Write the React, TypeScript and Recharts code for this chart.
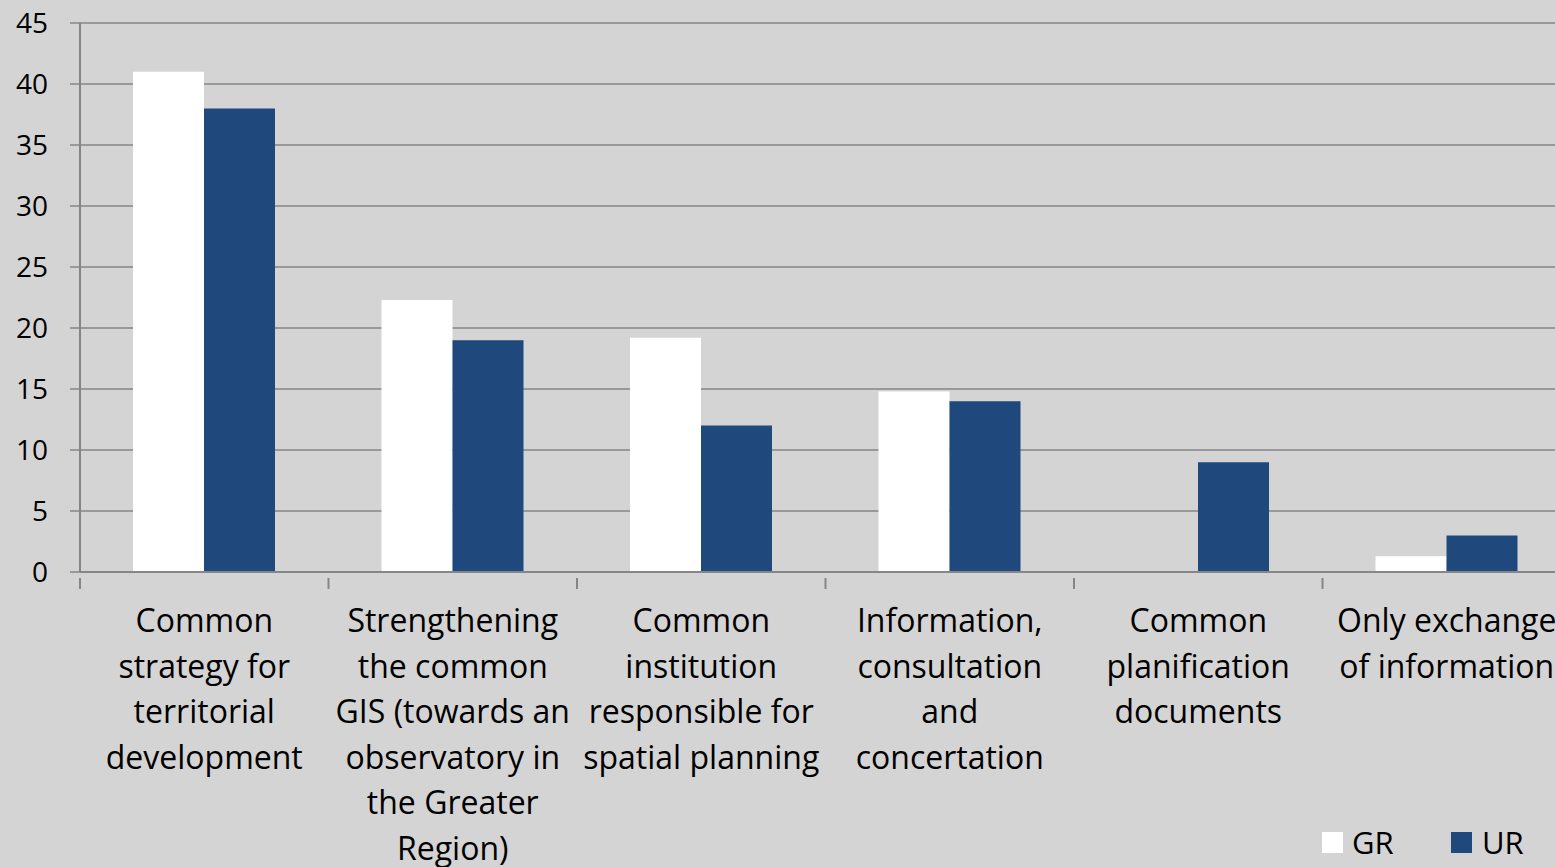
import { Bar, BarChart, CartesianGrid, XAxis, YAxis } from "recharts"

const categories = [
  "Common\nstrategy for\nterritorial\ndevelopment",
  "Strengthening\nthe common\nGIS (towards an\nobservatory in\nthe Greater\nRegion)",
  "Common\ninstitution\nresponsible for\nspatial planning",
  "Information,\nconsultation\nand\nconcertation",
  "Common\nplanification\ndocuments",
  "Only exchange\nof information",
]
const grValues = [41, 22.3, 19.2, 14.8, 0, 1.3]
const urValues = [38, 19, 12, 14, 9, 3]
const yTicks = [0, 5, 10, 15, 20, 25, 30, 35, 40, 45]

const data = categories.map((name, i) => ({ name, GR: grValues[i], UR: urValues[i] }))

const FONT = "'Open Sans', sans-serif"
const GRID = "#868686"
const BLUE = "#1f497d"
const BG = "#d4d4d4"

const CategoryTick = (props: any) => {
  const { x, y, payload, bandWidth } = props
  const lines = String(payload.value).split("\n")
  const left = x - bandWidth / 2
  return (
    <g>
      <line x1={left} y1={y - 2} x2={left} y2={y + 9} stroke={GRID} strokeWidth={2} />
      <text x={x} y={y + 52} textAnchor="middle" fontFamily={FONT} fontSize={32} fill="#000">
        {lines.map((l, i) => (
          <tspan key={i} x={x} dy={i === 0 ? 0 : 45.5}>
            {l}
          </tspan>
        ))}
      </text>
    </g>
  )
}

export default function App() {
  const chartWidth = 1600
  const plotLeft = 80
  const plotRight = 1571
  const band = (plotRight - plotLeft) / categories.length
  return (
    <div
      style={{
        position: "fixed",
        left: 0,
        top: 0,
        width: 1555,
        height: 867,
        overflow: "hidden",
        background: BG,
      }}
    >
      <style>{`html,body{margin:0;background:${BG};}`}</style>
      <BarChart
        width={chartWidth}
        height={867}
        data={data}
        margin={{ top: 23, right: chartWidth - plotRight, bottom: 0, left: 0 }}
        barGap={0}
        barSize={71}
      >
        <CartesianGrid horizontal vertical={false} stroke={GRID} strokeWidth={1.5} />
        <XAxis
          dataKey="name"
          height={295}
          interval={0}
          axisLine={{ stroke: GRID, strokeWidth: 2 }}
          tickLine={false}
          tick={<CategoryTick bandWidth={band} />}
        />
        <YAxis
          width={plotLeft}
          domain={[0, 45]}
          ticks={yTicks}
          interval={0}
          axisLine={{ stroke: GRID, strokeWidth: 2 }}
          tickLine={{ stroke: GRID, strokeWidth: 1.5 }}
          tickSize={10}
          tickMargin={22}
          tick={{ fill: "#000", fontSize: 28, fontFamily: FONT }}
        />
        <Bar dataKey="GR" fill="#ffffff" isAnimationActive={false} />
        <Bar dataKey="UR" fill={BLUE} isAnimationActive={false} />
      </BarChart>
      <div
        style={{
          position: "absolute",
          left: 1322,
          top: 821,
          display: "flex",
          alignItems: "center",
          fontFamily: FONT,
          fontSize: 31,
          color: "#000",
        }}
      >
        <span style={{ width: 21, height: 21, background: "#fff", display: "inline-block" }} />
        <span style={{ marginLeft: 9, width: 99 }}>GR</span>
        <span style={{ width: 21, height: 21, background: BLUE, display: "inline-block" }} />
        <span style={{ marginLeft: 10 }}>UR</span>
      </div>
    </div>
  )
}
